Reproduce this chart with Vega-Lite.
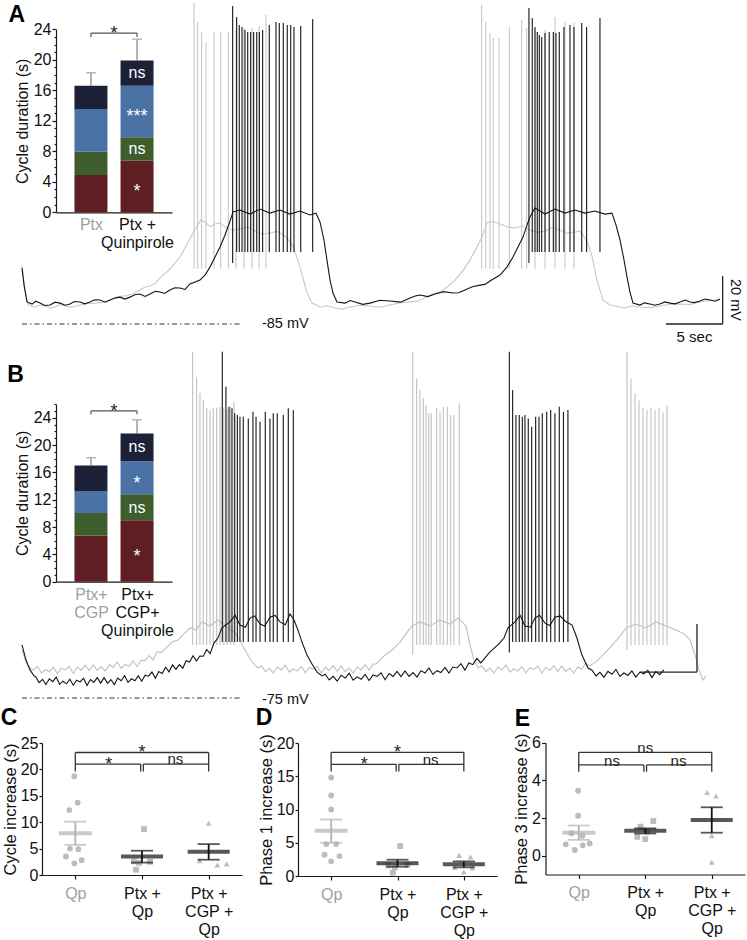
{
"$schema":"https://vega.github.io/schema/vega-lite/v6.json",
"width":747,"height":940,"autosize":"none","padding":0,"background":"#ffffff",
"config":{"view":{"stroke":null},"axis":{"grid":false,"domainColor":"#1a1a1a","tickColor":"#1a1a1a","labelColor":"#111111","titleColor":"#111111","labelFont":"Liberation Sans","titleFont":"Liberation Sans","titleFontWeight":"normal","domainWidth":1.2,"tickWidth":1.2},"text":{"font":"Liberation Sans"}},
"datasets":{
"trAg":[{"x":0,"y":-60.8},{"x":0.26,"y":-70.8},{"x":0.53,"y":-77.1},{"x":1.14,"y":-77.9},{"x":1.6,"y":-77.0},{"x":2.02,"y":-77.5},{"x":2.5,"y":-78.4},{"x":2.89,"y":-77.9},{"x":3.3,"y":-77.0},{"x":3.77,"y":-77.5},{"x":4.4,"y":-78.0},{"x":5.09,"y":-77.1},{"x":5.7,"y":-76.5},{"x":6.4,"y":-76.3},{"x":7.0,"y":-76.0},{"x":7.72,"y":-75},{"x":8.4,"y":-73.7},{"x":9.04,"y":-73.3},{"x":9.7,"y":-72.6},{"x":10.35,"y":-70.8},{"x":10.8,"y":-69.6},{"x":11.23,"y":-69.2},{"x":11.7,"y":-68.0},{"x":12.11,"y":-65.8},{"x":12.72,"y":-63.3},{"x":13.42,"y":-59.6},{"x":13.86,"y":-57.1},{"x":14.39,"y":-52.5},{"x":15.0,"y":-47.1},{"x":15.35,"y":-44.2},{"x":15.7,"y":-41.6},{"x":16.05,"y":-42.5},{"x":16.5,"y":-44.4},{"x":16.93,"y":-43.3},{"x":17.4,"y":-42.9},{"x":17.81,"y":-44.6},{"x":18.5,"y":-45.9},{"x":19.12,"y":-45.4},{"x":19.8,"y":-44.6},{"x":20.44,"y":-46.3},{"x":21.1,"y":-47.6},{"x":21.75,"y":-47.1},{"x":22.4,"y":-46.4},{"x":23.07,"y":-48.3},{"x":23.68,"y":-51.7},{"x":24.04,"y":-56.3},{"x":24.39,"y":-61.3},{"x":24.74,"y":-67.5},{"x":25.0,"y":-72.1},{"x":25.44,"y":-76.3},{"x":26.14,"y":-77.9},{"x":26.8,"y":-77.4},{"x":27.46,"y":-78.3},{"x":28.1,"y":-78.8},{"x":28.77,"y":-77.9},{"x":29.6,"y":-77.2},{"x":30.53,"y":-77.5},{"x":31.4,"y":-78.0},{"x":32.28,"y":-77.1},{"x":33.2,"y":-76.1},{"x":34.04,"y":-75.8},{"x":34.7,"y":-75.5},{"x":35.35,"y":-74.2},{"x":36.0,"y":-72.5},{"x":36.67,"y":-71.7},{"x":37.28,"y":-69.6},{"x":37.98,"y":-66.7},{"x":38.6,"y":-63.3},{"x":39.3,"y":-58.3},{"x":39.82,"y":-53.8},{"x":40.35,"y":-48.8},{"x":40.79,"y":-42.9},{"x":41.3,"y":-42.2},{"x":41.93,"y":-43.3},{"x":42.6,"y":-44.6},{"x":43.25,"y":-45},{"x":43.9,"y":-44.2},{"x":44.56,"y":-45.8},{"x":45.2,"y":-46.8},{"x":45.88,"y":-46.3},{"x":46.5,"y":-44.9},{"x":47.19,"y":-45.8},{"x":47.8,"y":-47.2},{"x":48.51,"y":-46.7},{"x":48.9,"y":-46.2},{"x":49.21,"y":-47.9},{"x":49.65,"y":-51.3},{"x":50.0,"y":-56.7},{"x":50.44,"y":-66.7},{"x":50.96,"y":-75},{"x":51.58,"y":-77.1},{"x":52.89,"y":-78.3},{"x":53.5,"y":-77.4},{"x":54.21,"y":-77.9},{"x":55.1,"y":-78.2},{"x":55.96,"y":-77.5},{"x":56.8,"y":-76.8},{"x":57.72,"y":-76.7},{"x":58.6,"y":-76.9},{"x":59.47,"y":-75.8},{"x":60.3,"y":-75.1},{"x":61.23,"y":-75}],
"trAk":[{"x":0,"y":-61.7},{"x":0.18,"y":-68.8},{"x":0.44,"y":-75.8},{"x":0.88,"y":-76.7},{"x":1.2,"y":-75.5},{"x":1.58,"y":-76.3},{"x":2.0,"y":-77.3},{"x":2.46,"y":-77.1},{"x":2.9,"y":-75.9},{"x":3.33,"y":-76.3},{"x":3.8,"y":-77.2},{"x":4.21,"y":-76.7},{"x":4.6,"y":-75.6},{"x":5.09,"y":-75.8},{"x":5.5,"y":-76.6},{"x":5.96,"y":-75.8},{"x":6.4,"y":-74.9},{"x":6.84,"y":-75},{"x":7.3,"y":-75.9},{"x":7.72,"y":-75},{"x":8.2,"y":-74.1},{"x":8.6,"y":-73.8},{"x":9.0,"y":-74.6},{"x":9.47,"y":-73.8},{"x":9.9,"y":-72.8},{"x":10.35,"y":-72.5},{"x":10.8,"y":-73.5},{"x":11.23,"y":-72.5},{"x":11.7,"y":-71.4},{"x":12.11,"y":-71.7},{"x":12.5,"y":-72.3},{"x":12.98,"y":-70.8},{"x":13.4,"y":-69.9},{"x":13.86,"y":-70},{"x":14.3,"y":-70.6},{"x":14.74,"y":-68.3},{"x":15.61,"y":-66.7},{"x":16.05,"y":-64.6},{"x":16.49,"y":-61.3},{"x":16.93,"y":-57.1},{"x":17.37,"y":-52.9},{"x":17.81,"y":-47.9},{"x":18.25,"y":-42.1},{"x":18.51,"y":-38.3},{"x":19.12,"y":-37.5},{"x":20.0,"y":-39.2},{"x":20.88,"y":-37.1},{"x":21.75,"y":-38.8},{"x":22.63,"y":-37.5},{"x":23.51,"y":-39.2},{"x":24.39,"y":-37.9},{"x":25.26,"y":-39.6},{"x":25.79,"y":-38.8},{"x":26.14,"y":-42.5},{"x":26.49,"y":-50},{"x":26.75,"y":-58.3},{"x":27.02,"y":-66.7},{"x":27.28,"y":-72.1},{"x":27.63,"y":-75.8},{"x":28.33,"y":-76.3},{"x":28.8,"y":-75.2},{"x":29.21,"y":-75.8},{"x":29.9,"y":-76.8},{"x":30.53,"y":-76.3},{"x":31.4,"y":-75.1},{"x":32.28,"y":-75.4},{"x":33.2,"y":-75.9},{"x":34.04,"y":-74.2},{"x":34.5,"y":-73.3},{"x":34.91,"y":-72.9},{"x":35.6,"y":-73.6},{"x":36.23,"y":-72.5},{"x":37.0,"y":-71.5},{"x":37.81,"y":-72.1},{"x":38.3,"y":-72.0},{"x":38.86,"y":-70.8},{"x":39.5,"y":-69.5},{"x":40.18,"y":-68.8},{"x":40.6,"y":-68.5},{"x":41.05,"y":-67.1},{"x":41.93,"y":-64.6},{"x":42.54,"y":-61.3},{"x":43.07,"y":-57.1},{"x":43.51,"y":-52.9},{"x":43.95,"y":-48.8},{"x":44.3,"y":-43.8},{"x":44.56,"y":-40.4},{"x":45.0,"y":-36.7},{"x":45.88,"y":-39.2},{"x":46.75,"y":-37.1},{"x":47.63,"y":-38.8},{"x":48.51,"y":-37.5},{"x":49.39,"y":-38.8},{"x":50.26,"y":-37.9},{"x":51.14,"y":-39.2},{"x":51.75,"y":-38.8},{"x":52.11,"y":-43.8},{"x":52.46,"y":-50},{"x":52.81,"y":-58.3},{"x":53.07,"y":-65.4},{"x":53.33,"y":-71.7},{"x":53.6,"y":-76.3},{"x":54.21,"y":-77.1},{"x":54.6,"y":-76.2},{"x":55.09,"y":-76.7},{"x":55.5,"y":-77.2},{"x":55.96,"y":-76.7},{"x":56.4,"y":-75.8},{"x":56.84,"y":-76.3},{"x":57.3,"y":-76.6},{"x":57.72,"y":-75.8},{"x":58.2,"y":-75.0},{"x":58.6,"y":-75.8},{"x":59.0,"y":-76.1},{"x":59.47,"y":-75.4},{"x":59.9,"y":-74.6},{"x":60.35,"y":-75},{"x":60.8,"y":-75.5},{"x":61.23,"y":-74.6}],
"spAg":[{"x":15.09,"y":48.75,"y2":-62},{"x":15.41,"y":40.8,"y2":-62},{"x":15.76,"y":36.7,"y2":-62},{"x":16.14,"y":32.5,"y2":-62},{"x":16.84,"y":36.7,"y2":-62},{"x":17.43,"y":36.7,"y2":-62},{"x":18.1,"y":36.7,"y2":-62},{"x":18.77,"y":37.5,"y2":-62},{"x":19.47,"y":38.3,"y2":-62},{"x":20.18,"y":38.3,"y2":-62},{"x":20.79,"y":39.2,"y2":-62},{"x":21.4,"y":43.75,"y2":-62},{"x":40.32,"y":47.9,"y2":-62},{"x":40.68,"y":40.8,"y2":-62},{"x":41.05,"y":36.25,"y2":-62},{"x":41.34,"y":34.2,"y2":-62},{"x":41.84,"y":34.2,"y2":-62},{"x":42.75,"y":38.75,"y2":-62},{"x":43.83,"y":41.7,"y2":-62},{"x":44.27,"y":38.3,"y2":-62},{"x":45.0,"y":37.5,"y2":-62},{"x":45.88,"y":37.5,"y2":-62},{"x":46.75,"y":42.9,"y2":-62},{"x":47.63,"y":40.8,"y2":-62},{"x":48.42,"y":40.4,"y2":-62}],
"spAk":[{"x":18.48,"y":47.5,"y2":-59.6},{"x":18.83,"y":42.9,"y2":-55},{"x":19.06,"y":39.6,"y2":-55},{"x":19.3,"y":38.75,"y2":-55},{"x":19.56,"y":37.5,"y2":-55},{"x":19.8,"y":36.7,"y2":-55},{"x":20.06,"y":36.7,"y2":-55},{"x":20.32,"y":36.7,"y2":-55},{"x":20.59,"y":36.7,"y2":-55},{"x":20.82,"y":36.7,"y2":-55},{"x":21.11,"y":37.5,"y2":-55},{"x":21.69,"y":39.6,"y2":-55},{"x":22.28,"y":40.8,"y2":-55},{"x":22.57,"y":40.4,"y2":-55},{"x":22.92,"y":40.4,"y2":-55},{"x":23.27,"y":39.6,"y2":-55},{"x":23.57,"y":39.6,"y2":-55},{"x":23.86,"y":38.75,"y2":-55},{"x":24.45,"y":39.2,"y2":-55},{"x":25.5,"y":42.1,"y2":-55},{"x":44.47,"y":46.7,"y2":-59.6},{"x":44.76,"y":42.5,"y2":-55},{"x":45.0,"y":38.75,"y2":-55},{"x":45.2,"y":36.7,"y2":-55},{"x":45.38,"y":35.4,"y2":-55},{"x":45.59,"y":34.6,"y2":-55},{"x":45.88,"y":36.25,"y2":-55},{"x":46.25,"y":36.7,"y2":-55},{"x":46.61,"y":36.7,"y2":-55},{"x":46.84,"y":36.25,"y2":-55},{"x":47.13,"y":36.7,"y2":-55},{"x":47.54,"y":38.75,"y2":-55},{"x":48.07,"y":39.6,"y2":-55},{"x":48.42,"y":38.75,"y2":-55},{"x":49.1,"y":40.4,"y2":-55},{"x":49.53,"y":38.75,"y2":-55},{"x":50.7,"y":42.5,"y2":-55}],
"annA":[{"k":"d","x":0,"x2":19.3,"y":-85,"y2":-85},{"k":"r","x":56.49,"x2":61.46,"y":-85,"y2":-85},{"k":"r","x":61.46,"x2":61.46,"y":-85,"y2":-65},{"k":"t","x":21.05,"y":-85,"txt":"-85 mV"},{"k":"tc","x":58.99,"y":-90.4,"txt":"5 sec"},{"k":"tv","x":62.54,"y":-75,"txt":"20 mV"},{"k":"L","x":-0.46,"y":43.75,"txt":"A"}],
"trBg":[{"x":0,"y":-55},{"x":0.35,"y":-60},{"x":0.7,"y":-62.5},{"x":1.0,"y":-63.4},{"x":1.35,"y":-61.8},{"x":1.7,"y":-64.6},{"x":2.05,"y":-63.2},{"x":2.4,"y":-64.1},{"x":2.75,"y":-62.2},{"x":3.1,"y":-64.8},{"x":3.45,"y":-62.6},{"x":3.8,"y":-63.3},{"x":4.15,"y":-61.8},{"x":4.5,"y":-64.8},{"x":4.85,"y":-62.2},{"x":5.2,"y":-63.4},{"x":5.55,"y":-61.3},{"x":5.9,"y":-63.6},{"x":6.25,"y":-61.2},{"x":6.6,"y":-63.5},{"x":6.95,"y":-61.9},{"x":7.3,"y":-63.8},{"x":7.65,"y":-61.2},{"x":8.0,"y":-62.3},{"x":8.35,"y":-60.0},{"x":8.7,"y":-62.7},{"x":9.05,"y":-61.0},{"x":9.4,"y":-61.8},{"x":9.75,"y":-59.6},{"x":10.1,"y":-61.9},{"x":10.45,"y":-59.2},{"x":10.8,"y":-59.4},{"x":11.15,"y":-57.3},{"x":11.5,"y":-59.2},{"x":11.85,"y":-55.7},{"x":12.2,"y":-56.1},{"x":13.16,"y":-51.7},{"x":13.68,"y":-50.8},{"x":14.21,"y":-48.3},{"x":14.74,"y":-45.8},{"x":15.26,"y":-46.7},{"x":15.79,"y":-43.3},{"x":16.49,"y":-45},{"x":17.19,"y":-42.5},{"x":17.89,"y":-45},{"x":18.6,"y":-47.5},{"x":19.12,"y":-50.8},{"x":19.65,"y":-55.8},{"x":20.18,"y":-60},{"x":20.7,"y":-62.5},{"x":21.0,"y":-61.6},{"x":21.35,"y":-64.0},{"x":21.7,"y":-62.5},{"x":22.05,"y":-64.6},{"x":22.4,"y":-62.1},{"x":22.75,"y":-63.3},{"x":23.1,"y":-61.3},{"x":23.45,"y":-64.2},{"x":23.8,"y":-62.8},{"x":24.15,"y":-63.8},{"x":24.5,"y":-61.9},{"x":24.85,"y":-64.5},{"x":25.2,"y":-62.4},{"x":25.55,"y":-63.1},{"x":25.9,"y":-61.7},{"x":26.25,"y":-64.7},{"x":26.6,"y":-62.2},{"x":26.95,"y":-63.5},{"x":27.3,"y":-61.5},{"x":27.65,"y":-63.9},{"x":28.0,"y":-61.6},{"x":28.35,"y":-64.0},{"x":28.7,"y":-62.5},{"x":29.05,"y":-64.6},{"x":29.4,"y":-62.1},{"x":29.75,"y":-63.3},{"x":30.1,"y":-61.1},{"x":30.45,"y":-63.4},{"x":30.8,"y":-60.9},{"x":31.05,"y":-60.8},{"x":31.75,"y":-57.5},{"x":32.46,"y":-55},{"x":33.16,"y":-51.7},{"x":33.68,"y":-48.3},{"x":34.21,"y":-45},{"x":34.91,"y":-43.3},{"x":35.79,"y":-45},{"x":36.67,"y":-42.5},{"x":37.54,"y":-44.2},{"x":38.25,"y":-41.7},{"x":38.6,"y":-43.3},{"x":38.95,"y":-45},{"x":39.3,"y":-52.9},{"x":39.65,"y":-59.2},{"x":40.0,"y":-62.5},{"x":40.35,"y":-61.6},{"x":40.7,"y":-64.0},{"x":41.05,"y":-62.5},{"x":41.4,"y":-64.6},{"x":41.75,"y":-62.1},{"x":42.1,"y":-63.3},{"x":42.45,"y":-61.3},{"x":42.8,"y":-64.2},{"x":43.15,"y":-62.8},{"x":43.5,"y":-63.8},{"x":43.85,"y":-61.9},{"x":44.2,"y":-64.5},{"x":44.55,"y":-62.4},{"x":44.9,"y":-63.1},{"x":45.25,"y":-61.7},{"x":45.6,"y":-64.7},{"x":45.95,"y":-62.2},{"x":46.3,"y":-63.5},{"x":46.65,"y":-61.5},{"x":47.0,"y":-63.9},{"x":47.35,"y":-61.6},{"x":47.7,"y":-64.0},{"x":48.05,"y":-62.5},{"x":48.4,"y":-64.6},{"x":48.75,"y":-62.1},{"x":49.1,"y":-62.9},{"x":49.45,"y":-60.4},{"x":49.8,"y":-61.7},{"x":50.53,"y":-59.2},{"x":51.23,"y":-55.8},{"x":51.93,"y":-52.1},{"x":52.46,"y":-49.2},{"x":52.98,"y":-45.8},{"x":53.86,"y":-44.2},{"x":54.74,"y":-45.8},{"x":55.61,"y":-43.3},{"x":56.49,"y":-45},{"x":57.37,"y":-46.7},{"x":58.07,"y":-48.3},{"x":58.6,"y":-50.8},{"x":59.04,"y":-57.1},{"x":59.39,"y":-63.3},{"x":59.74,"y":-67.5},{"x":60.0,"y":-65.8}],
"trBk":[{"x":0,"y":-52.9},{"x":0.35,"y":-59.2},{"x":0.7,"y":-63.3},{"x":1.05,"y":-65.8},{"x":1.2,"y":-66.1},{"x":1.5,"y":-68.6},{"x":1.8,"y":-67.2},{"x":2.1,"y":-69.4},{"x":2.4,"y":-67.0},{"x":2.7,"y":-68.2},{"x":3.0,"y":-66.3},{"x":3.3,"y":-69.3},{"x":3.6,"y":-68.0},{"x":3.9,"y":-69.1},{"x":4.2,"y":-67.2},{"x":4.5,"y":-69.7},{"x":4.8,"y":-67.6},{"x":5.1,"y":-68.3},{"x":5.4,"y":-66.8},{"x":5.7,"y":-69.8},{"x":6.0,"y":-67.3},{"x":6.3,"y":-68.5},{"x":6.6,"y":-66.5},{"x":6.9,"y":-68.8},{"x":7.2,"y":-66.5},{"x":7.5,"y":-68.9},{"x":7.8,"y":-67.3},{"x":8.1,"y":-69.4},{"x":8.4,"y":-66.7},{"x":8.7,"y":-67.8},{"x":9.0,"y":-65.7},{"x":9.3,"y":-68.5},{"x":9.6,"y":-67.0},{"x":9.9,"y":-67.8},{"x":10.2,"y":-65.7},{"x":10.5,"y":-68.0},{"x":10.8,"y":-65.5},{"x":11.1,"y":-65.9},{"x":11.4,"y":-64.2},{"x":11.7,"y":-66.8},{"x":12.0,"y":-64.0},{"x":12.3,"y":-64.8},{"x":12.6,"y":-62.2},{"x":12.9,"y":-64.1},{"x":13.2,"y":-61.2},{"x":13.5,"y":-63.1},{"x":13.8,"y":-61.1},{"x":14.1,"y":-62.6},{"x":14.4,"y":-59.5},{"x":14.7,"y":-60.0},{"x":15.0,"y":-57.4},{"x":15.3,"y":-59.6},{"x":15.6,"y":-57.5},{"x":15.9,"y":-57.6},{"x":16.2,"y":-54.8},{"x":16.5,"y":-56.5},{"x":16.84,"y":-52.1},{"x":17.19,"y":-50},{"x":17.54,"y":-45.8},{"x":18.25,"y":-43.3},{"x":18.7,"y":-40.5},{"x":19.12,"y":-44.6},{"x":19.6,"y":-45.5},{"x":20.0,"y":-41.7},{"x":20.4,"y":-40.8},{"x":20.88,"y":-44.2},{"x":21.3,"y":-45},{"x":21.75,"y":-41.3},{"x":22.2,"y":-40.6},{"x":22.63,"y":-43.3},{"x":23.1,"y":-44.5},{"x":23.51,"y":-40},{"x":23.86,"y":-42.5},{"x":24.21,"y":-46.7},{"x":24.56,"y":-51.7},{"x":25.0,"y":-57.1},{"x":25.44,"y":-60.8},{"x":25.88,"y":-64.2},{"x":26.32,"y":-65.8},{"x":26.6,"y":-65.1},{"x":26.95,"y":-67.5},{"x":27.3,"y":-66.0},{"x":27.65,"y":-68.0},{"x":28.0,"y":-65.5},{"x":28.35,"y":-66.7},{"x":28.7,"y":-64.7},{"x":29.05,"y":-67.6},{"x":29.4,"y":-66.2},{"x":29.75,"y":-67.2},{"x":30.1,"y":-65.2},{"x":30.45,"y":-67.7},{"x":30.8,"y":-65.4},{"x":31.15,"y":-66.0},{"x":31.5,"y":-64.5},{"x":31.85,"y":-67.4},{"x":32.2,"y":-64.8},{"x":32.55,"y":-66.0},{"x":32.9,"y":-63.9},{"x":33.25,"y":-66.1},{"x":33.6,"y":-63.7},{"x":33.95,"y":-66.0},{"x":34.3,"y":-64.4},{"x":34.65,"y":-66.3},{"x":35.0,"y":-63.6},{"x":35.35,"y":-64.6},{"x":35.7,"y":-62.5},{"x":36.05,"y":-65.2},{"x":36.4,"y":-63.6},{"x":36.75,"y":-64.4},{"x":37.1,"y":-62.3},{"x":37.45,"y":-64.6},{"x":37.8,"y":-62.1},{"x":38.15,"y":-62.5},{"x":38.5,"y":-60.7},{"x":38.85,"y":-63.4},{"x":39.2,"y":-60.4},{"x":39.55,"y":-61.1},{"x":39.9,"y":-58.5},{"x":40.25,"y":-60.4},{"x":41.05,"y":-55.8},{"x":41.75,"y":-52.9},{"x":42.28,"y":-50},{"x":42.63,"y":-45.8},{"x":43.25,"y":-43.3},{"x":43.7,"y":-40.5},{"x":44.12,"y":-45},{"x":44.6,"y":-45.5},{"x":45.0,"y":-41.7},{"x":45.4,"y":-40.5},{"x":45.88,"y":-43.8},{"x":46.3,"y":-44.8},{"x":46.75,"y":-41.3},{"x":47.2,"y":-40.8},{"x":47.63,"y":-42.9},{"x":48.25,"y":-44.6},{"x":48.68,"y":-50},{"x":49.12,"y":-57.1},{"x":49.65,"y":-62.5},{"x":50.0,"y":-63.4},{"x":50.35,"y":-65.8},{"x":50.7,"y":-64.3},{"x":51.05,"y":-66.4},{"x":51.4,"y":-63.9},{"x":51.75,"y":-65.1},{"x":52.1,"y":-63.1},{"x":52.45,"y":-66.0},{"x":52.8,"y":-64.6},{"x":53.15,"y":-65.6},{"x":53.5,"y":-63.7},{"x":53.85,"y":-66.3},{"x":54.2,"y":-64.2},{"x":54.55,"y":-64.9},{"x":54.9,"y":-63.5},{"x":55.25,"y":-66.5},{"x":55.6,"y":-64.0},{"x":55.95,"y":-65.3},{"x":56.3,"y":-63.3}],
"spBg":[{"x":14.97,"y":69.3,"y2":-52.9},{"x":15.32,"y":58.3,"y2":-52.9},{"x":15.61,"y":52.1,"y2":-52.9},{"x":15.9,"y":49.2,"y2":-52.9},{"x":16.2,"y":45.8,"y2":-52.9},{"x":16.49,"y":45.0,"y2":-52.9},{"x":16.78,"y":45.8,"y2":-52.9},{"x":17.08,"y":45.8,"y2":-52.9},{"x":17.37,"y":46.3,"y2":-52.9},{"x":17.7,"y":46,"y2":-52.9},{"x":18.0,"y":45.5,"y2":-52.9},{"x":18.3,"y":46.5,"y2":-52.9},{"x":18.6,"y":48.3,"y2":-52.9},{"x":34.27,"y":69.3,"y2":-57},{"x":34.62,"y":58.2,"y2":-52.9},{"x":34.91,"y":53.3,"y2":-52.9},{"x":35.2,"y":49.9,"y2":-52.9},{"x":35.44,"y":47.1,"y2":-52.9},{"x":35.68,"y":43.6,"y2":-52.9},{"x":35.9,"y":43.6,"y2":-52.9},{"x":36.38,"y":45.7,"y2":-52.9},{"x":36.67,"y":44.3,"y2":-52.9},{"x":36.96,"y":46.4,"y2":-52.9},{"x":37.31,"y":46.4,"y2":-52.9},{"x":37.6,"y":42.9,"y2":-52.9},{"x":37.89,"y":42.9,"y2":-52.9},{"x":38.36,"y":47.8,"y2":-52.9},{"x":53.07,"y":69.3,"y2":-55},{"x":53.42,"y":58,"y2":-52.9},{"x":53.77,"y":52,"y2":-52.9},{"x":54.12,"y":49,"y2":-52.9},{"x":54.47,"y":46,"y2":-52.9},{"x":54.82,"y":45,"y2":-52.9},{"x":55.18,"y":46,"y2":-52.9},{"x":55.53,"y":45,"y2":-52.9},{"x":55.88,"y":46,"y2":-52.9},{"x":56.23,"y":44,"y2":-52.9},{"x":56.58,"y":47,"y2":-52.9}],
"spBk":[{"x":17.57,"y":69.3,"y2":-51.7},{"x":17.89,"y":54.7,"y2":-51.7},{"x":18.16,"y":46.4,"y2":-51.7},{"x":18.42,"y":45.7,"y2":-51.7},{"x":18.66,"y":43.6,"y2":-51.7},{"x":18.89,"y":42.9,"y2":-51.7},{"x":19.12,"y":42.2,"y2":-51.7},{"x":19.41,"y":42.2,"y2":-51.7},{"x":19.85,"y":41.5,"y2":-51.7},{"x":20.26,"y":44.3,"y2":-51.7},{"x":20.53,"y":42.2,"y2":-51.7},{"x":20.88,"y":40.1,"y2":-51.7},{"x":21.34,"y":44.3,"y2":-51.7},{"x":21.75,"y":41.5,"y2":-51.7},{"x":22.04,"y":43.6,"y2":-51.7},{"x":22.39,"y":43.6,"y2":-51.7},{"x":22.92,"y":42.9,"y2":-51.7},{"x":23.36,"y":45.7,"y2":-51.7},{"x":23.8,"y":45.0,"y2":-51.7},{"x":42.75,"y":69.3,"y2":-56},{"x":43.04,"y":53.3,"y2":-51.7},{"x":43.33,"y":42.9,"y2":-51.7},{"x":43.62,"y":42.9,"y2":-51.7},{"x":43.89,"y":42.2,"y2":-51.7},{"x":44.12,"y":42.9,"y2":-51.7},{"x":44.41,"y":41.5,"y2":-51.7},{"x":44.71,"y":38.0,"y2":-51.7},{"x":45.06,"y":42.2,"y2":-51.7},{"x":45.35,"y":42.2,"y2":-51.7},{"x":45.64,"y":43.6,"y2":-51.7},{"x":46.03,"y":44.3,"y2":-51.7},{"x":46.38,"y":45.0,"y2":-51.7},{"x":46.75,"y":43.6,"y2":-51.7},{"x":47.13,"y":46.4,"y2":-51.7},{"x":47.5,"y":44.2,"y2":-51.7},{"x":47.89,"y":45.0,"y2":-51.7}],
"annB":[{"k":"d","x":0,"x2":19.3,"y":-75,"y2":-75},{"k":"r","x":54.21,"x2":59.21,"y":-64.2,"y2":-64.2},{"k":"r","x":59.21,"x2":59.21,"y":-64.2,"y2":-44.2},{"k":"t","x":21.05,"y":-75.8,"txt":"-75 mV"},{"k":"L","x":-0.57,"y":59.4,"txt":"B"}],
"barA":[{"x":1,"p":"1","y":0,"y2":4.9},{"x":1,"p":"2","y":4.9,"y2":7.95},{"x":1,"p":"3","y":7.95,"y2":13.55},{"x":1,"p":"4","y":13.55,"y2":16.6},{"x":2,"p":"1","y":0,"y2":6.75},{"x":2,"p":"2","y":6.75,"y2":9.85},{"x":2,"p":"3","y":9.85,"y2":16.6},{"x":2,"p":"4","y":16.6,"y2":19.9}],
"lbIA":[{"x":2,"y":3.36,"txt":"*"},{"x":2,"y":8.26,"txt":"ns"},{"x":2,"y":13.2,"txt":"***"},{"x":2,"y":18.3,"txt":"ns"}],
"annIA":[{"k":"e","x":1,"y":16.6,"y2":18.3},{"k":"e","x":2,"y":19.9,"y2":22.7},{"k":"c","x":1,"y":18.3},{"k":"c","x":2,"y":22.7},{"k":"b","x":1,"x2":2,"y":23.5,"y2":23.5},{"k":"b","x":1,"x2":1,"y":23.0,"y2":23.5},{"k":"b","x":2,"x2":2,"y":23.0,"y2":23.5},{"k":"s","x":1.5,"y":24.1,"txt":"*"}],
"barB":[{"x":1,"p":"1","y":0,"y2":6.75},{"x":1,"p":"2","y":6.75,"y2":10.05},{"x":1,"p":"3","y":10.05,"y2":13.2},{"x":1,"p":"4","y":13.2,"y2":17.0},{"x":2,"p":"1","y":0,"y2":9.0},{"x":2,"p":"2","y":9.0,"y2":12.8},{"x":2,"p":"3","y":12.8,"y2":17.65},{"x":2,"p":"4","y":17.65,"y2":21.7}],
"lbIB":[{"x":2,"y":4.4,"txt":"*"},{"x":2,"y":10.8,"txt":"ns"},{"x":2,"y":15.1,"txt":"*"},{"x":2,"y":19.7,"txt":"ns"}],
"annIB":[{"k":"e","x":1,"y":17.0,"y2":18.15},{"k":"e","x":2,"y":21.7,"y2":23.7},{"k":"c","x":1,"y":18.15},{"k":"c","x":2,"y":23.7},{"k":"b","x":1,"x2":2,"y":25.0,"y2":25.0},{"k":"b","x":1,"x2":1,"y":24.5,"y2":25.0},{"k":"b","x":2,"x2":2,"y":24.5,"y2":25.0},{"k":"s","x":1.5,"y":25.6,"txt":"*"}],
"ptC":[{"x":0.985,"y":18.7,"g":1},{"x":1.035,"y":13.7,"g":1},{"x":0.91,"y":12.3,"g":1},{"x":0.92,"y":5.0,"g":1},{"x":1.045,"y":4.9,"g":1},{"x":0.86,"y":3.5,"g":1},{"x":1.095,"y":2.8,"g":1},{"x":0.985,"y":2.2,"g":1},{"x":2.03,"y":8.7,"g":2},{"x":1.88,"y":2.6,"g":2},{"x":2.12,"y":2.5,"g":2},{"x":1.955,"y":2.3,"g":2},{"x":1.91,"y":1.0,"g":2},{"x":3.0,"y":9.8,"g":3},{"x":2.865,"y":2.7,"g":3},{"x":3.13,"y":1.9,"g":3},{"x":3.27,"y":2.1,"g":3}],
"stC":[{"k":"m","x":1,"y":7.9},{"k":"e","x":1,"y":5.7,"y2":10.1},{"k":"c","x":1,"y":5.7},{"k":"c","x":1,"y":10.1},{"k":"m","x":2,"y":3.5},{"k":"e","x":2,"y":2.35,"y2":4.6},{"k":"c","x":2,"y":2.35},{"k":"c","x":2,"y":4.6},{"k":"m","x":3,"y":4.4},{"k":"e","x":3,"y":2.9,"y2":5.85},{"k":"c","x":3,"y":2.9},{"k":"c","x":3,"y":5.85}],
"brC":[{"x":1,"x2":3,"y":23.2,"y2":23.2},{"x":1,"x2":1,"y":19.6,"y2":23.2},{"x":3,"x2":3,"y":19.6,"y2":23.2},{"x":1,"x2":1.98,"y":21.0,"y2":21.0},{"x":2.02,"x2":3,"y":21.0,"y2":21.0},{"x":1.98,"x2":1.98,"y":19.6,"y2":21.0},{"x":2.02,"x2":2.02,"y":19.6,"y2":21.0}],
"lbC":[{"x":2,"y":24.0,"txt":"*"},{"x":1.5,"y":21.8,"txt":"*"},{"x":2.5,"y":21.9,"txt":"ns"},{"x":0.005,"y":29.7,"txt":"C","k":"L"}],
"ptD":[{"x":1.0,"y":14.8,"g":1},{"x":1.0,"y":12.1,"g":1},{"x":1.0,"y":10.0,"g":1},{"x":0.925,"y":4.8,"g":1},{"x":1.075,"y":4.8,"g":1},{"x":0.9,"y":3.2,"g":1},{"x":1.125,"y":3.0,"g":1},{"x":1.0,"y":2.2,"g":1},{"x":2.04,"y":4.5,"g":2},{"x":1.86,"y":1.6,"g":2},{"x":2.15,"y":1.7,"g":2},{"x":1.96,"y":1.3,"g":2},{"x":1.93,"y":0.5,"g":2},{"x":2.93,"y":3.1,"g":3},{"x":3.1,"y":2.85,"g":3},{"x":2.86,"y":1.3,"g":3},{"x":3.0,"y":0.6,"g":3},{"x":3.13,"y":1.2,"g":3}],
"stD":[{"k":"m","x":1,"y":6.8},{"k":"e","x":1,"y":5.0,"y2":8.5},{"k":"c","x":1,"y":5.0},{"k":"c","x":1,"y":8.5},{"k":"m","x":2,"y":1.9},{"k":"e","x":2,"y":1.4,"y2":2.45},{"k":"c","x":2,"y":1.4},{"k":"c","x":2,"y":2.45},{"k":"m","x":3,"y":1.75},{"k":"e","x":3,"y":1.3,"y2":2.2},{"k":"c","x":3,"y":1.3},{"k":"c","x":3,"y":2.2}],
"brD":[{"x":1,"x2":3,"y":18.6,"y2":18.6},{"x":1,"x2":1,"y":15.7,"y2":18.6},{"x":3,"x2":3,"y":15.7,"y2":18.6},{"x":1,"x2":1.98,"y":16.8,"y2":16.8},{"x":2.02,"x2":3,"y":16.8,"y2":16.8},{"x":1.98,"x2":1.98,"y":15.7,"y2":16.8},{"x":2.02,"x2":2.02,"y":15.7,"y2":16.8}],
"lbD":[{"x":2,"y":19.3,"txt":"*"},{"x":1.5,"y":17.4,"txt":"*"},{"x":2.5,"y":17.5,"txt":"ns"},{"x":-0.013,"y":23.8,"txt":"D","k":"L"}],
"ptE":[{"x":0.99,"y":3.45,"g":1},{"x":0.99,"y":2.12,"g":1},{"x":0.89,"y":1.19,"g":1},{"x":1.055,"y":1.05,"g":1},{"x":1.165,"y":0.65,"g":1},{"x":0.805,"y":0.6,"g":1},{"x":1.06,"y":0.55,"g":1},{"x":0.94,"y":0.3,"g":1},{"x":2.12,"y":1.84,"g":2},{"x":1.93,"y":1.54,"g":2},{"x":2.03,"y":1.27,"g":2},{"x":1.88,"y":1.0,"g":2},{"x":2.0,"y":0.88,"g":2},{"x":2.93,"y":3.35,"g":3},{"x":3.065,"y":3.17,"g":3},{"x":3.0,"y":1.06,"g":3},{"x":3.0,"y":-0.35,"g":3}],
"stE":[{"k":"m","x":1,"y":1.22},{"k":"e","x":1,"y":0.84,"y2":1.6},{"k":"c","x":1,"y":0.84},{"k":"c","x":1,"y":1.6},{"k":"m","x":2,"y":1.32},{"k":"e","x":2,"y":1.18,"y2":1.45},{"k":"c","x":2,"y":1.18},{"k":"c","x":2,"y":1.45},{"k":"m","x":3,"y":1.9},{"k":"e","x":3,"y":1.22,"y2":2.57},{"k":"c","x":3,"y":1.22},{"k":"c","x":3,"y":2.57}],
"brE":[{"x":1,"x2":3,"y":5.49,"y2":5.49},{"x":1,"x2":1,"y":4.46,"y2":5.49},{"x":3,"x2":3,"y":4.46,"y2":5.49},{"x":1,"x2":1.98,"y":4.82,"y2":4.82},{"x":2.02,"x2":3,"y":4.82,"y2":4.82},{"x":1.98,"x2":1.98,"y":4.46,"y2":4.82},{"x":2.02,"x2":2.02,"y":4.46,"y2":4.82}],
"lbE":[{"x":2,"y":5.72,"txt":"ns"},{"x":1.5,"y":5.05,"txt":"ns"},{"x":2.5,"y":5.05,"txt":"ns"},{"x":0.154,"y":7.26,"txt":"E","k":"L"}]
},
"layer":[
{"encoding":{"x":{"field":"x","type":"quantitative","scale":{"domain":[0,61.23],"range":[22,720],"nice":false,"zero":false},"axis":null},"y":{"field":"y","type":"quantitative","scale":{"domain":[-85,50],"range":[324,0],"nice":false,"zero":false},"axis":null}},
"layer":[
{"data":{"name":"trAg"},"mark":{"type":"line","color":"#c8c8c8","strokeWidth":1.1},"encoding":{}},
{"data":{"name":"spAg"},"mark":{"type":"rule","color":"#c8c8c8","strokeWidth":1.1},"encoding":{"y2":{"field":"y2"}}},
{"data":{"name":"trAk"},"mark":{"type":"line","color":"#151515","strokeWidth":1.1},"encoding":{}},
{"data":{"name":"spAk"},"mark":{"type":"rule","color":"#151515","strokeWidth":1.1},"encoding":{"y2":{"field":"y2"}}},
{"data":{"name":"annA"},"transform":[{"filter":"datum.k==='d'"}],"mark":{"type":"rule","color":"#333333","strokeWidth":1.2,"strokeDash":[5,3,1.5,3]},"encoding":{"x2":{"field":"x2"},"y2":{"field":"y2"}}},
{"data":{"name":"annA"},"transform":[{"filter":"datum.k==='r'"}],"mark":{"type":"rule","color":"#222222","strokeWidth":1.3},"encoding":{"x2":{"field":"x2"},"y2":{"field":"y2"}}},
{"data":{"name":"annA"},"transform":[{"filter":"datum.k==='t'"}],"mark":{"type":"text","align":"left","baseline":"middle","fontSize":14.5,"color":"#111111"},"encoding":{"text":{"field":"txt"}}},
{"data":{"name":"annA"},"transform":[{"filter":"datum.k==='tc'"}],"mark":{"type":"text","align":"center","baseline":"middle","fontSize":15,"color":"#111111"},"encoding":{"text":{"field":"txt"}}},
{"data":{"name":"annA"},"transform":[{"filter":"datum.k==='tv'"}],"mark":{"type":"text","align":"center","baseline":"middle","fontSize":14.5,"angle":90,"color":"#111111"},"encoding":{"text":{"field":"txt"}}},
{"data":{"name":"annA"},"transform":[{"filter":"datum.k==='L'"}],"mark":{"type":"text","align":"center","baseline":"middle","fontSize":23,"fontWeight":"bold","color":"#000000"},"encoding":{"text":{"field":"txt"}}}
]},
{"encoding":{"x":{"field":"x","type":"quantitative","scale":{"domain":[0.35,2.65],"range":[56,172],"nice":false,"zero":false},"axis":{"orient":"bottom","offset":-727.7,"values":[1,2],"ticks":false,"labelPadding":4,"labelFontSize":16,"labelLineHeight":18,"title":null,"labelExpr":"datum.value === 1 ? 'Ptx' : ['Ptx +', 'Quinpirole']","labelColor":{"condition":{"test":"datum.value === 1","value":"#a0a0a0"},"value":"#111111"}}},
"y":{"field":"y","type":"quantitative","scale":{"domain":[0,24],"range":[212.3,29.3],"nice":false,"zero":false},"axis":{"orient":"left","offset":-56,"values":[0,1,2,3,4,5,6,7,8,9,10,11,12,13,14,15,16,17,18,19,20,21,22,23,24],"tickSize":{"condition":{"test":"datum.value % 4 === 0","value":4},"value":2},"labelExpr":"datum.value % 4 === 0 ? datum.label : ''","labelFontSize":16,"labelPadding":1,"title":"Cycle duration (s)","titleFontSize":16,"titlePadding":3}}},
"layer":[
{"data":{"name":"annIA"},"transform":[{"filter":"datum.k==='e'"}],"mark":{"type":"rule","color":"#9c9c9c","strokeWidth":1.5},"encoding":{"y2":{"field":"y2"}}},
{"data":{"name":"annIA"},"transform":[{"filter":"datum.k==='c'"}],"mark":{"type":"tick","orient":"horizontal","size":10,"thickness":1.5,"color":"#9c9c9c"},"encoding":{}},
{"data":{"name":"barA"},"mark":{"type":"bar","width":33},"encoding":{"y2":{"field":"y2"},"color":{"field":"p","type":"nominal","scale":{"domain":["1","2","3","4"],"range":["#5f1e21","#3e5e2e","#4a72a4","#1c2137"]},"legend":null}}},
{"data":{"name":"lbIA"},"transform":[{"filter":"datum.txt==='ns'"}],"mark":{"type":"text","color":"#ffffff","fontSize":16,"baseline":"middle"},"encoding":{"text":{"field":"txt"}}},
{"data":{"name":"lbIA"},"transform":[{"filter":"datum.txt!=='ns'"}],"mark":{"type":"text","color":"#ffffff","fontSize":18,"baseline":"middle","dy":5},"encoding":{"text":{"field":"txt"}}},
{"data":{"name":"annIA"},"transform":[{"filter":"datum.k==='b'"}],"mark":{"type":"rule","color":"#555555","strokeWidth":1.2},"encoding":{"x2":{"field":"x2"},"y2":{"field":"y2"}}},
{"data":{"name":"annIA"},"transform":[{"filter":"datum.k==='s'"}],"mark":{"type":"text","color":"#222222","fontSize":18,"baseline":"middle","dy":5},"encoding":{"text":{"field":"txt"}}}
]},
{"encoding":{"x":{"field":"x","type":"quantitative","scale":{"domain":[0,61.23],"range":[22,720],"nice":false,"zero":false},"axis":null},"y":{"field":"y","type":"quantitative","scale":{"domain":[-75,76.25],"range":[698,335],"nice":false,"zero":false},"axis":null}},
"layer":[
{"data":{"name":"trBg"},"mark":{"type":"line","color":"#c0c0c0","strokeWidth":1.1},"encoding":{}},
{"data":{"name":"spBg"},"mark":{"type":"rule","color":"#c0c0c0","strokeWidth":1.1},"encoding":{"y2":{"field":"y2"}}},
{"data":{"name":"trBk"},"mark":{"type":"line","color":"#151515","strokeWidth":1.1},"encoding":{}},
{"data":{"name":"spBk"},"mark":{"type":"rule","color":"#151515","strokeWidth":1.1},"encoding":{"y2":{"field":"y2"}}},
{"data":{"name":"annB"},"transform":[{"filter":"datum.k==='d'"}],"mark":{"type":"rule","color":"#333333","strokeWidth":1.2,"strokeDash":[5,3,1.5,3]},"encoding":{"x2":{"field":"x2"},"y2":{"field":"y2"}}},
{"data":{"name":"annB"},"transform":[{"filter":"datum.k==='r'"}],"mark":{"type":"rule","color":"#222222","strokeWidth":1.3},"encoding":{"x2":{"field":"x2"},"y2":{"field":"y2"}}},
{"data":{"name":"annB"},"transform":[{"filter":"datum.k==='t'"}],"mark":{"type":"text","align":"left","baseline":"middle","fontSize":14.5,"color":"#111111"},"encoding":{"text":{"field":"txt"}}},
{"data":{"name":"annB"},"transform":[{"filter":"datum.k==='L'"}],"mark":{"type":"text","align":"center","baseline":"middle","fontSize":23,"fontWeight":"bold","color":"#000000"},"encoding":{"text":{"field":"txt"}}}
]},
{"encoding":{"x":{"field":"x","type":"quantitative","scale":{"domain":[0.35,2.65],"range":[56,172],"nice":false,"zero":false},"axis":{"orient":"bottom","offset":-358.3,"values":[1,2],"ticks":false,"labelPadding":5,"labelFontSize":16,"labelLineHeight":18,"title":null,"labelExpr":"datum.value === 1 ? ['Ptx+', 'CGP'] : ['Ptx+', 'CGP+', 'Quinpirole']","labelColor":{"condition":{"test":"datum.value === 1","value":"#a0a0a0"},"value":"#111111"}}},
"y":{"field":"y","type":"quantitative","scale":{"domain":[0,26],"range":[581.7,404.1],"nice":false,"zero":false},"axis":{"orient":"left","offset":-56,"values":[0,1,2,3,4,5,6,7,8,9,10,11,12,13,14,15,16,17,18,19,20,21,22,23,24,25,26],"tickSize":{"condition":{"test":"datum.value % 4 === 0","value":4},"value":2},"labelExpr":"datum.value % 4 === 0 ? datum.label : ''","labelFontSize":16,"labelPadding":1,"title":"Cycle duration (s)","titleFontSize":16,"titlePadding":3}}},
"layer":[
{"data":{"name":"annIB"},"transform":[{"filter":"datum.k==='e'"}],"mark":{"type":"rule","color":"#9c9c9c","strokeWidth":1.5},"encoding":{"y2":{"field":"y2"}}},
{"data":{"name":"annIB"},"transform":[{"filter":"datum.k==='c'"}],"mark":{"type":"tick","orient":"horizontal","size":10,"thickness":1.5,"color":"#9c9c9c"},"encoding":{}},
{"data":{"name":"barB"},"mark":{"type":"bar","width":33},"encoding":{"y2":{"field":"y2"},"color":{"field":"p","type":"nominal","scale":{"domain":["1","2","3","4"],"range":["#5f1e21","#3e5e2e","#4a72a4","#1c2137"]},"legend":null}}},
{"data":{"name":"lbIB"},"transform":[{"filter":"datum.txt==='ns'"}],"mark":{"type":"text","color":"#ffffff","fontSize":16,"baseline":"middle"},"encoding":{"text":{"field":"txt"}}},
{"data":{"name":"lbIB"},"transform":[{"filter":"datum.txt!=='ns'"}],"mark":{"type":"text","color":"#ffffff","fontSize":18,"baseline":"middle","dy":5},"encoding":{"text":{"field":"txt"}}},
{"data":{"name":"annIB"},"transform":[{"filter":"datum.k==='b'"}],"mark":{"type":"rule","color":"#555555","strokeWidth":1.2},"encoding":{"x2":{"field":"x2"},"y2":{"field":"y2"}}},
{"data":{"name":"annIB"},"transform":[{"filter":"datum.k==='s'"}],"mark":{"type":"text","color":"#222222","fontSize":18,"baseline":"middle","dy":5},"encoding":{"text":{"field":"txt"}}}
]},
{"encoding":{"x":{"field":"x","type":"quantitative","scale":{"domain":[0.5,3.5],"range":[42,242],"nice":false,"zero":false},"axis":{"orient":"bottom","offset":-65,"values":[1,2,3],"tickSize":4,"labelPadding":6,"labelFontSize":16,"labelLineHeight":18,"title":null,"labelExpr":"datum.value === 1 ? 'Qp' : datum.value === 2 ? ['Ptx +', 'Qp'] : ['Ptx +', 'CGP +', 'Qp']","labelColor":{"condition":{"test":"datum.value === 1","value":"#a0a0a0"},"value":"#111111"}}},
"y":{"field":"y","type":"quantitative","scale":{"domain":[0,25],"range":[875,743],"nice":false,"zero":false},"axis":{"orient":"left","offset":-42,"values":[0,5,10,15,20,25],"tickSize":3,"labelPadding":1,"labelFontSize":16,"title":"Cycle increase (s)","titleFontSize":16.5,"titlePadding":2}}},
"layer":[
{"data":{"name":"ptC"},"mark":{"type":"point","filled":true,"size":34,"opacity":1,"color":"#bcbcbc"},"encoding":{"shape":{"field":"g","type":"nominal","scale":{"domain":[1,2,3],"range":["circle","square","triangle-up"]},"legend":null}}},
{"data":{"name":"stC"},"transform":[{"filter":"datum.k==='e'"}],"mark":{"type":"rule","strokeWidth":1.8},"encoding":{"y2":{"field":"y2"},"color":{"condition":{"test":"datum.x === 1","value":"#b3b3b3"},"value":"#111111"}}},
{"data":{"name":"stC"},"transform":[{"filter":"datum.k==='c'"}],"mark":{"type":"tick","orient":"horizontal","size":22,"thickness":1.8},"encoding":{"color":{"condition":{"test":"datum.x === 1","value":"#b3b3b3"},"value":"#111111"}}},
{"data":{"name":"stC"},"transform":[{"filter":"datum.k==='m'"}],"mark":{"type":"tick","orient":"horizontal","thickness":4},"encoding":{"color":{"condition":{"test":"datum.x === 1","value":"#b3b3b3"},"value":"#111111"},"size":{"condition":{"test":"datum.x === 1","value":33},"value":42}}},
{"data":{"name":"brC"},"mark":{"type":"rule","color":"#333333","strokeWidth":1.3},"encoding":{"x2":{"field":"x2"},"y2":{"field":"y2"}}},
{"data":{"name":"lbC"},"transform":[{"filter":"datum.txt==='ns'"}],"mark":{"type":"text","fontSize":15,"baseline":"middle","color":"#222222"},"encoding":{"text":{"field":"txt"}}},
{"data":{"name":"lbC"},"transform":[{"filter":"datum.txt==='*'"}],"mark":{"type":"text","fontSize":18,"baseline":"middle","dy":5,"color":"#222222"},"encoding":{"text":{"field":"txt"}}},
{"data":{"name":"lbC"},"transform":[{"filter":"datum.k==='L'"}],"mark":{"type":"text","fontSize":23,"fontWeight":"bold","baseline":"middle","color":"#000000"},"encoding":{"text":{"field":"txt"}}}
]},
{"encoding":{"x":{"field":"x","type":"quantitative","scale":{"domain":[0.5,3.5],"range":[298,497],"nice":false,"zero":false},"axis":{"orient":"bottom","offset":-64,"values":[1,2,3],"tickSize":4,"labelPadding":6,"labelFontSize":16,"labelLineHeight":18,"title":null,"labelExpr":"datum.value === 1 ? 'Qp' : datum.value === 2 ? ['Ptx +', 'Qp'] : ['Ptx +', 'CGP +', 'Qp']","labelColor":{"condition":{"test":"datum.value === 1","value":"#a0a0a0"},"value":"#111111"}}},
"y":{"field":"y","type":"quantitative","scale":{"domain":[0,20],"range":[876,743],"nice":false,"zero":false},"axis":{"orient":"left","offset":-298,"values":[0,5,10,15,20],"tickSize":3,"labelPadding":1,"labelFontSize":16,"title":"Phase 1 increase (s)","titleFontSize":16.5,"titlePadding":2}}},
"layer":[
{"data":{"name":"ptD"},"mark":{"type":"point","filled":true,"size":34,"opacity":1,"color":"#bcbcbc"},"encoding":{"shape":{"field":"g","type":"nominal","scale":{"domain":[1,2,3],"range":["circle","square","triangle-up"]},"legend":null}}},
{"data":{"name":"stD"},"transform":[{"filter":"datum.k==='e'"}],"mark":{"type":"rule","strokeWidth":1.8},"encoding":{"y2":{"field":"y2"},"color":{"condition":{"test":"datum.x === 1","value":"#b3b3b3"},"value":"#111111"}}},
{"data":{"name":"stD"},"transform":[{"filter":"datum.k==='c'"}],"mark":{"type":"tick","orient":"horizontal","size":22,"thickness":1.8},"encoding":{"color":{"condition":{"test":"datum.x === 1","value":"#b3b3b3"},"value":"#111111"}}},
{"data":{"name":"stD"},"transform":[{"filter":"datum.k==='m'"}],"mark":{"type":"tick","orient":"horizontal","thickness":4},"encoding":{"color":{"condition":{"test":"datum.x === 1","value":"#b3b3b3"},"value":"#111111"},"size":{"condition":{"test":"datum.x === 1","value":33},"value":42}}},
{"data":{"name":"brD"},"mark":{"type":"rule","color":"#333333","strokeWidth":1.3},"encoding":{"x2":{"field":"x2"},"y2":{"field":"y2"}}},
{"data":{"name":"lbD"},"transform":[{"filter":"datum.txt==='ns'"}],"mark":{"type":"text","fontSize":15,"baseline":"middle","color":"#222222"},"encoding":{"text":{"field":"txt"}}},
{"data":{"name":"lbD"},"transform":[{"filter":"datum.txt==='*'"}],"mark":{"type":"text","fontSize":18,"baseline":"middle","dy":5,"color":"#222222"},"encoding":{"text":{"field":"txt"}}},
{"data":{"name":"lbD"},"transform":[{"filter":"datum.k==='L'"}],"mark":{"type":"text","fontSize":23,"fontWeight":"bold","baseline":"middle","color":"#000000"},"encoding":{"text":{"field":"txt"}}}
]},
{"encoding":{"x":{"field":"x","type":"quantitative","scale":{"domain":[0.5,3.5],"range":[545.5,745],"nice":false,"zero":false},"axis":{"orient":"bottom","offset":-65.5,"values":[1,2,3],"tickSize":4,"labelPadding":6,"labelFontSize":16,"labelLineHeight":18,"title":null,"labelExpr":"datum.value === 1 ? 'Qp' : datum.value === 2 ? ['Ptx +', 'Qp'] : ['Ptx +', 'CGP +', 'Qp']","labelColor":{"condition":{"test":"datum.value === 1","value":"#a0a0a0"},"value":"#111111"}}},
"y":{"field":"y","type":"quantitative","scale":{"domain":[-1,6],"range":[874.5,742.7],"nice":false,"zero":false},"axis":{"orient":"left","offset":-545.5,"values":[0,2,4,6],"tickSize":4,"labelPadding":1,"labelFontSize":16,"title":"Phase 3 increase (s)","titleFontSize":16.5,"titlePadding":2}}},
"layer":[
{"data":{"name":"ptE"},"mark":{"type":"point","filled":true,"size":34,"opacity":1,"color":"#bcbcbc"},"encoding":{"shape":{"field":"g","type":"nominal","scale":{"domain":[1,2,3],"range":["circle","square","triangle-up"]},"legend":null}}},
{"data":{"name":"stE"},"transform":[{"filter":"datum.k==='e'"}],"mark":{"type":"rule","strokeWidth":1.8},"encoding":{"y2":{"field":"y2"},"color":{"condition":{"test":"datum.x === 1","value":"#b3b3b3"},"value":"#111111"}}},
{"data":{"name":"stE"},"transform":[{"filter":"datum.k==='c'"}],"mark":{"type":"tick","orient":"horizontal","size":22,"thickness":1.8},"encoding":{"color":{"condition":{"test":"datum.x === 1","value":"#b3b3b3"},"value":"#111111"}}},
{"data":{"name":"stE"},"transform":[{"filter":"datum.k==='m'"}],"mark":{"type":"tick","orient":"horizontal","thickness":4},"encoding":{"color":{"condition":{"test":"datum.x === 1","value":"#b3b3b3"},"value":"#111111"},"size":{"condition":{"test":"datum.x === 1","value":33},"value":42}}},
{"data":{"name":"brE"},"mark":{"type":"rule","color":"#333333","strokeWidth":1.3},"encoding":{"x2":{"field":"x2"},"y2":{"field":"y2"}}},
{"data":{"name":"lbE"},"transform":[{"filter":"datum.txt==='ns'"}],"mark":{"type":"text","fontSize":15,"baseline":"middle","color":"#222222"},"encoding":{"text":{"field":"txt"}}},
{"data":{"name":"lbE"},"transform":[{"filter":"datum.k==='L'"}],"mark":{"type":"text","fontSize":23,"fontWeight":"bold","baseline":"middle","color":"#000000"},"encoding":{"text":{"field":"txt"}}}
]}
],
"resolve":{"scale":{"x":"independent","y":"independent","shape":"independent"}}
}
